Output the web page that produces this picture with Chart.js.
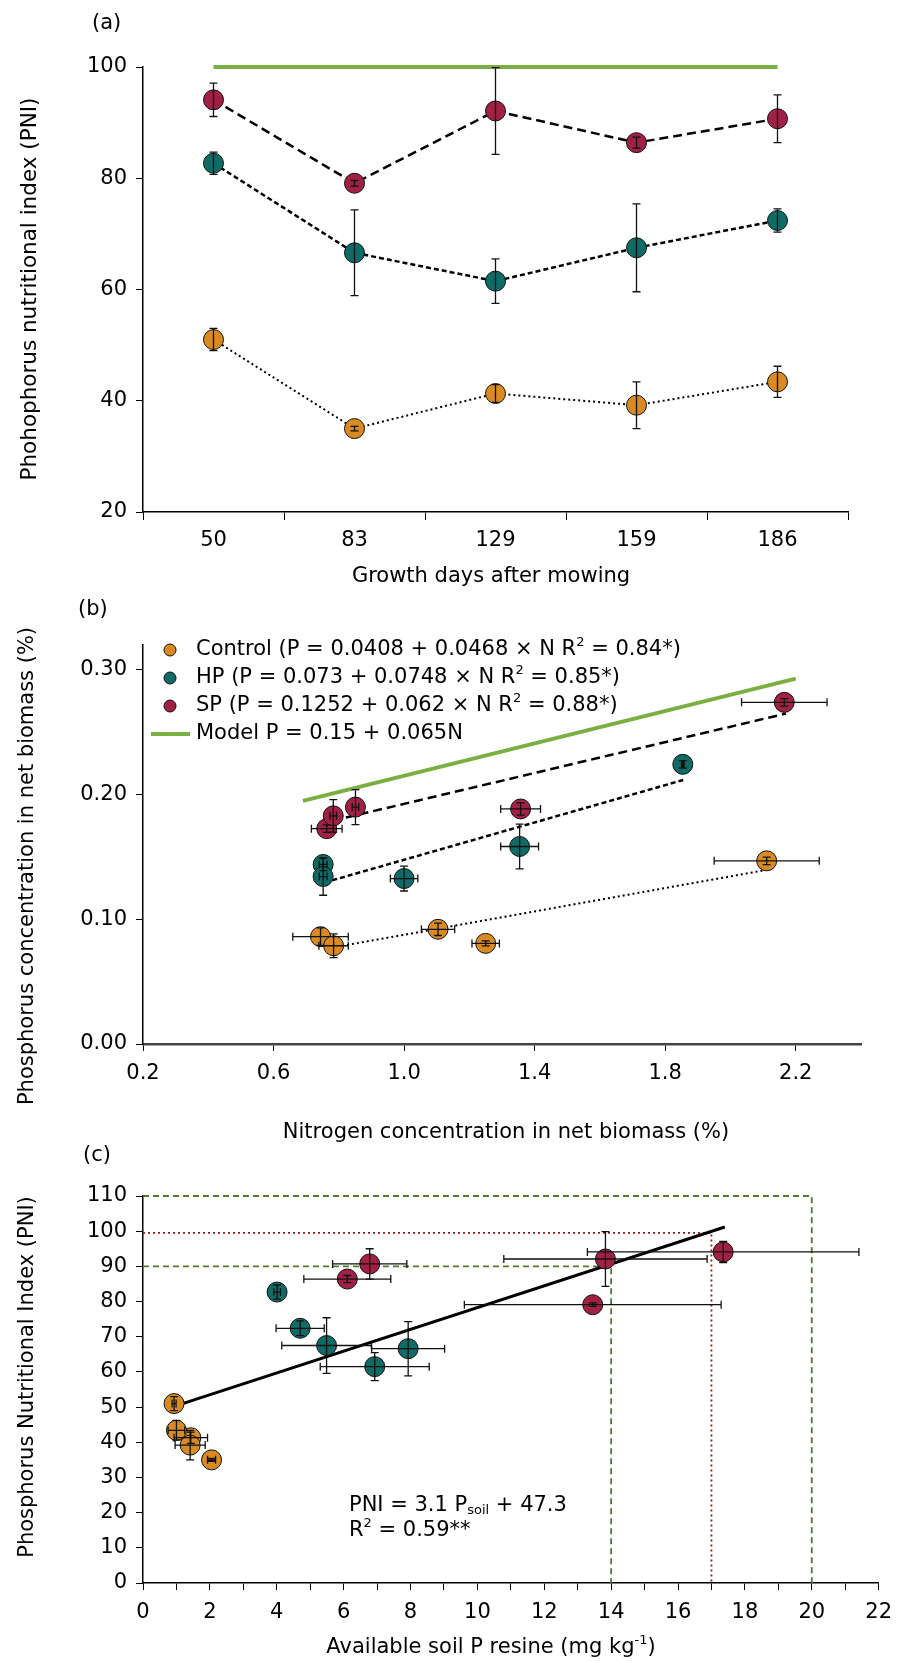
<!DOCTYPE html>
<html>
<head>
<meta charset="utf-8">
<title>Phosphorus nutritional index</title>
<script src="https://cdn.jsdelivr.net/npm/chart.js@4.4.0/dist/chart.umd.min.js"></script>
<style>
  html, body { margin: 0; padding: 0; background: #fff; }
  #wrap { position: relative; width: 902px; height: 1661px; }
  canvas { position: absolute; left: 0; }
</style>
</head>
<body>
<div id="wrap">
  <canvas id="chartA" width="902" height="600" style="top:0"></canvas>
  <canvas id="chartB" width="902" height="570" style="top:590px"></canvas>
  <canvas id="chartC" width="902" height="521" style="top:1140px"></canvas>
</div>
<script>
// ---------------- (a) PNI along the regrowth days ----------------
const days = ['50', '83', '129', '159', '186'];
const pniControl = [51.0, 35.0, 41.3, 39.2, 43.4];
const pniControlErr = [2.0, 0.4, 1.6, 4.2, 2.8];
const pniHP = [82.7, 66.6, 61.5, 67.5, 72.4];
const pniHPErr = [2.0, 7.7, 4.0, 7.9, 2.1];
const pniSP = [94.1, 79.1, 92.1, 86.4, 90.7];
const pniSPErr = [3.0, 0.5, 7.8, 1.0, 4.3];
const pniOptimum = [100, 100, 100, 100, 100];

// ---------------- (b) P vs N in net biomass ----------------
const nControl = [0.744, 0.784, 1.104, 1.250, 2.111];
const pControl = [0.0861, 0.0788, 0.0920, 0.0807, 0.1469];
const nControlErr = [0.085, 0.045, 0.051, 0.042, 0.161];
const pControlErr = [0.007, 0.0095, 0.005, 0.002, 0.003];
const nHP = [0.752, 0.752, 1.000, 1.354, 1.854];
const pHP = [0.1440, 0.1343, 0.1327, 0.1584, 0.2243];
const nHPErr = [0.012, 0.012, 0.042, 0.058, 0.004];
const pHPErr = [0.005, 0.015, 0.010, 0.018, 0.003];
const nSP = [0.763, 0.783, 0.851, 1.357, 2.165];
const pSP = [0.1727, 0.1830, 0.1900, 0.1885, 0.2740];
const nSPErr = [0.047, 0.010, 0.010, 0.061, 0.131];
const pSPErr = [0.003, 0.013, 0.014, 0.005, 0.003];

// fitted lines (end points)
const fitNControl = [0.78, 2.11];
const fitPControl = [0.0773, 0.1396];
const fitNHP = [0.78, 1.86];
const fitPHP = [0.1313, 0.2121];
const fitNSP = [0.78, 2.17];
const fitPSP = [0.179, 0.265];
const modelN = [0.69, 2.20];
const modelP = [0.195, 0.293];

const nTicks = [0.2, 0.6, 1.0, 1.4, 1.8, 2.2];
const pTicks = [0, 0.1, 0.2, 0.3];

// ---------------- (c) PNI vs available soil P (same day order as (a)) ----------------
const soilControl = [0.93, 2.05, 1.43, 1.41, 1.00];
const soilControlErr = [0.06, 0.12, 0.50, 0.45, 0.25];
const soilHP = [4.01, 7.93, 6.93, 5.49, 4.70];
const soilHPErr = [0.10, 1.09, 1.63, 1.34, 0.72];
const soilSP = [17.35, 13.45, 13.83, 6.11, 6.78];
const soilSPErr = [4.06, 3.84, 3.04, 1.30, 1.11];

const fitSoil = [1.0, 17.4];
const fitPni = [50.4, 101.2];

// critical soil P levels
const limitOuterX = [0, 20, 20];
const limitOuterY = [110, 110, 0];
const limitInnerX = [0, 14, 14];
const limitInnerY = [90, 90, 0];
const limitRedX = [0, 17, 17];
const limitRedY = [99.5, 99.5, 0];

const colControl = '#D98A22';
const colHP = '#0E6B66';
const colSP = '#A02046';
const colModel = '#7AB042';
const colLimitGreen = '#4F7A2C';
const colLimitRed = '#8B1B1B';

Chart.defaults.font.family = '"DejaVu Sans", sans-serif';
Chart.defaults.color = '#000';

// text with superscript / subscript pieces, drawn around (0,0)
function drawRich(ctx, segs, size, align) {
  const small = Math.round(size * 0.62);
  let total = 0;
  const parts = segs.map(s => {
    const fs = (s.sup || s.sub) ? small : size;
    ctx.font = fs + 'px "DejaVu Sans"';
    const w = ctx.measureText(s.t).width;
    total += w;
    return { s, fs, w };
  });
  let x = align === 'center' ? -total / 2 : 0;
  ctx.fillStyle = '#000';
  ctx.textBaseline = 'middle';
  ctx.textAlign = 'left';
  parts.forEach(p => {
    ctx.font = p.fs + 'px "DejaVu Sans"';
    const dy = p.s.sup ? -size * 0.36 : (p.s.sub ? size * 0.22 : 0);
    ctx.fillText(p.s.t, x, dy);
    x += p.w;
  });
}

const panelText = {
  id: 'panelText',
  afterDraw(chart, args, opts) {
    const ctx = chart.ctx;
    (opts.items || []).forEach(item => {
      ctx.save();
      ctx.translate(item.x, item.y);
      if (item.rotate) ctx.rotate(item.rotate);
      drawRich(ctx, item.segs, item.size || 21, item.align || 'center');
      ctx.restore();
    });
  }
};

// error bars from dataset.errX / dataset.errY
const errorBars = {
  id: 'errorBars',
  afterDatasetsDraw(chart) {
    const ctx = chart.ctx;
    const cap = 4;
    chart.data.datasets.forEach((ds, di) => {
      if (!ds.errX && !ds.errY) return;
      const meta = chart.getDatasetMeta(di);
      const xs = chart.scales[meta.xAxisID];
      const ys = chart.scales[meta.yAxisID];
      ctx.save();
      ctx.strokeStyle = '#111';
      ctx.lineWidth = 1.3;
      meta.data.forEach((pt, i) => {
        const raw = ds.data[i];
        const yv = typeof raw === 'object' ? raw.y : raw;
        ctx.beginPath();
        if (ds.errY) {
          const t = ys.getPixelForValue(yv + ds.errY[i]);
          const b = ys.getPixelForValue(yv - ds.errY[i]);
          ctx.moveTo(pt.x, t); ctx.lineTo(pt.x, b);
          ctx.moveTo(pt.x - cap, t); ctx.lineTo(pt.x + cap, t);
          ctx.moveTo(pt.x - cap, b); ctx.lineTo(pt.x + cap, b);
        }
        if (ds.errX) {
          const l = xs.getPixelForValue(raw.x - ds.errX[i]);
          const r = xs.getPixelForValue(raw.x + ds.errX[i]);
          ctx.moveTo(l, pt.y); ctx.lineTo(r, pt.y);
          ctx.moveTo(l, pt.y - cap); ctx.lineTo(l, pt.y + cap);
          ctx.moveTo(r, pt.y - cap); ctx.lineTo(r, pt.y + cap);
        }
        ctx.stroke();
      });
      ctx.restore();
    });
  }
};

// legend of panel (b)
const groupLegend = {
  id: 'groupLegend',
  afterDraw(chart, args, opts) {
    const ctx = chart.ctx;
    (opts.items || []).forEach((it, i) => {
      const y = opts.y0 + i * opts.step;
      ctx.save();
      if (it.line) {
        ctx.strokeStyle = it.color; ctx.lineWidth = 4;
        ctx.beginPath(); ctx.moveTo(opts.x - 19, y); ctx.lineTo(opts.x + 20, y); ctx.stroke();
      } else {
        ctx.fillStyle = it.color; ctx.strokeStyle = '#111'; ctx.lineWidth = 1;
        ctx.beginPath(); ctx.arc(opts.x, y, 6, 0, Math.PI * 2); ctx.fill(); ctx.stroke();
      }
      ctx.translate(opts.textX, y);
      drawRich(ctx, it.segs, 21, 'left');
      ctx.restore();
    });
  }
};

function pairs(xs, ys) {
  return xs.map((x, i) => ({ x: x, y: ys[i] }));
}

function pointSet(xs, ys, xErr, yErr, color) {
  return {
    data: pairs(xs, ys), errX: xErr, errY: yErr, showLine: false,
    pointRadius: 10, pointBackgroundColor: color, pointBorderColor: '#111', pointBorderWidth: 1, order: 0
  };
}

function lineSet(xs, ys, color, width, dash, order) {
  return {
    data: pairs(xs, ys), showLine: true, pointRadius: 0, borderColor: color,
    borderWidth: width, borderDash: dash, clip: false, order: order
  };
}

const tickFont = { size: 21 };

function axis(extra) {
  return Object.assign({
    grid: { drawOnChartArea: false, color: '#000', tickColor: '#000', tickLength: 7 },
    border: { color: '#000', width: 1.5 },
    ticks: { font: tickFont, color: '#000' }
  }, extra);
}

const common = {
  responsive: false,
  animation: false,
  events: [],
};

// ---------------- panel (a) ----------------
new Chart(document.getElementById('chartA'), {
  type: 'line',
  data: {
    labels: days,
    datasets: [
      { data: pniSP, errY: pniSPErr, borderColor: '#000', borderWidth: 2.5, borderDash: [9, 5],
        pointRadius: 10, pointBackgroundColor: colSP, pointBorderColor: '#111', pointBorderWidth: 1 },
      { data: pniHP, errY: pniHPErr, borderColor: '#000', borderWidth: 2.5, borderDash: [5, 3],
        pointRadius: 10, pointBackgroundColor: colHP, pointBorderColor: '#111', pointBorderWidth: 1 },
      { data: pniControl, errY: pniControlErr, borderColor: '#000', borderWidth: 2, borderDash: [2, 3],
        pointRadius: 10, pointBackgroundColor: colControl, pointBorderColor: '#111', pointBorderWidth: 1 },
      { data: pniOptimum, borderColor: colModel, borderWidth: 4, pointRadius: 0, clip: false, order: 5 }
    ]
  },
  options: Object.assign({}, common, {
    layout: { padding: { left: 0, right: 902 - 848, top: 67, bottom: 0 } },
    scales: {
      x: axis({
        type: 'category', offset: true,
        grid: { offset: true, drawOnChartArea: false, color: '#000', tickColor: '#000', tickLength: 8 },
        ticks: { font: tickFont, color: '#000', padding: 8 },
        afterFit: s => { s.height = 600 - 512; }
      }),
      y: axis({
        min: 20, max: 100,
        ticks: { stepSize: 20, font: tickFont, color: '#000', padding: 9 },
        afterFit: s => { s.width = 143; }
      })
    },
    plugins: {
      legend: { display: false }, tooltip: { enabled: false },
      panelText: { items: [
        { x: 92, y: 24, align: 'left', segs: [{ t: '(a)' }] },
        { x: 30, y: 289, rotate: -Math.PI / 2, size: 21.5, segs: [{ t: 'Phohophorus nutritional index (PNI)' }] },
        { x: 491, y: 577, segs: [{ t: 'Growth days after mowing' }] }
      ] }
    }
  }),
  plugins: [errorBars, panelText]
});

// ---------------- panel (b) ----------------
new Chart(document.getElementById('chartB'), {
  type: 'scatter',
  data: {
    datasets: [
      pointSet(nSP, pSP, nSPErr, pSPErr, colSP),
      pointSet(nHP, pHP, nHPErr, pHPErr, colHP),
      pointSet(nControl, pControl, nControlErr, pControlErr, colControl),
      lineSet(fitNSP, fitPSP, '#000', 2.5, [9, 5], 2),
      lineSet(fitNHP, fitPHP, '#000', 2.5, [5, 3], 2),
      lineSet(fitNControl, fitPControl, '#000', 2, [2, 3], 2),
      lineSet(modelN, modelP, colModel, 4, [], 3)
    ]
  },
  options: Object.assign({}, common, {
    layout: { padding: { left: 0, right: 902 - 861, top: 55, bottom: 0 } },
    scales: {
      x: axis({
        min: 0.2, max: 2.4,
        border: { color: '#444', width: 2.5 },
        ticks: { font: tickFont, color: '#000', padding: 10, callback: v => v.toFixed(1) },
        afterBuildTicks: s => { s.ticks = nTicks.map(v => ({ value: v })); },
        afterFit: s => { s.height = 570 - 454; }
      }),
      y: axis({
        min: 0, max: 0.32,
        ticks: { font: tickFont, color: '#000', padding: 9, callback: v => v.toFixed(2) },
        afterBuildTicks: s => { s.ticks = pTicks.map(v => ({ value: v })); },
        afterFit: s => { s.width = 143; }
      })
    },
    plugins: {
      legend: { display: false }, tooltip: { enabled: false },
      panelText: { items: [
        { x: 78, y: 20, align: 'left', segs: [{ t: '(b)' }] },
        { x: 28, y: 276, rotate: -Math.PI / 2, segs: [{ t: 'Phosphorus concentration in net biomass (%)' }] },
        { x: 506, y: 543, segs: [{ t: 'Nitrogen concentration in net biomass (%)' }] }
      ] },
      groupLegend: {
        x: 170, textX: 196, y0: 60, step: 28,
        items: [
          { color: colControl, segs: [{ t: 'Control (P = 0.0408 + 0.0468 × N R' }, { t: '2', sup: true }, { t: ' = 0.84*)' }] },
          { color: colHP, segs: [{ t: 'HP (P = 0.073 + 0.0748 × N R' }, { t: '2', sup: true }, { t: ' = 0.85*)' }] },
          { color: colSP, segs: [{ t: 'SP (P = 0.1252 + 0.062 × N R' }, { t: '2', sup: true }, { t: ' = 0.88*)' }] },
          { color: colModel, line: true, segs: [{ t: 'Model P = 0.15 + 0.065N' }] }
        ]
      }
    }
  }),
  plugins: [errorBars, panelText, groupLegend]
});

// ---------------- panel (c) ----------------
new Chart(document.getElementById('chartC'), {
  type: 'scatter',
  data: {
    datasets: [
      pointSet(soilSP, pniSP, soilSPErr, pniSPErr, colSP),
      pointSet(soilHP, pniHP, soilHPErr, pniHPErr, colHP),
      pointSet(soilControl, pniControl, soilControlErr, pniControlErr, colControl),
      lineSet(fitSoil, fitPni, '#000', 3, [], 2),
      lineSet(limitOuterX, limitOuterY, colLimitGreen, 1.8, [6, 4], 3),
      lineSet(limitInnerX, limitInnerY, colLimitGreen, 1.8, [6, 4], 3),
      lineSet(limitRedX, limitRedY, colLimitRed, 1.8, [2, 3], 3)
    ]
  },
  options: Object.assign({}, common, {
    layout: { padding: { left: 0, right: 902 - 881, top: 56, bottom: 0 } },
    scales: {
      x: axis({
        min: 0, max: 22,
        ticks: { stepSize: 1, autoSkip: false, font: tickFont, color: '#000', padding: 10,
          callback: v => (v % 2 === 0 ? v : '') },
        afterFit: s => { s.height = 521 - 443; }
      }),
      y: axis({
        min: 0, max: 110,
        ticks: { stepSize: 10, font: tickFont, color: '#000', padding: 9 },
        afterFit: s => { s.width = 143; }
      })
    },
    plugins: {
      legend: { display: false }, tooltip: { enabled: false },
      panelText: { items: [
        { x: 83, y: 16, align: 'left', segs: [{ t: '(c)' }] },
        { x: 28, y: 237, rotate: -Math.PI / 2, segs: [{ t: 'Phosphorus Nutritional Index (PNI)' }] },
        { x: 491, y: 508, segs: [{ t: 'Available soil P resine (mg kg' }, { t: '-1', sup: true }, { t: ')' }] },
        { x: 349, y: 366, align: 'left', segs: [{ t: 'PNI = 3.1 P' }, { t: 'soil', sub: true }, { t: ' + 47.3' }] },
        { x: 349, y: 391, align: 'left', segs: [{ t: 'R' }, { t: '2', sup: true }, { t: ' = 0.59**' }] }
      ] }
    }
  }),
  plugins: [errorBars, panelText]
});
</script>
</body>
</html>
